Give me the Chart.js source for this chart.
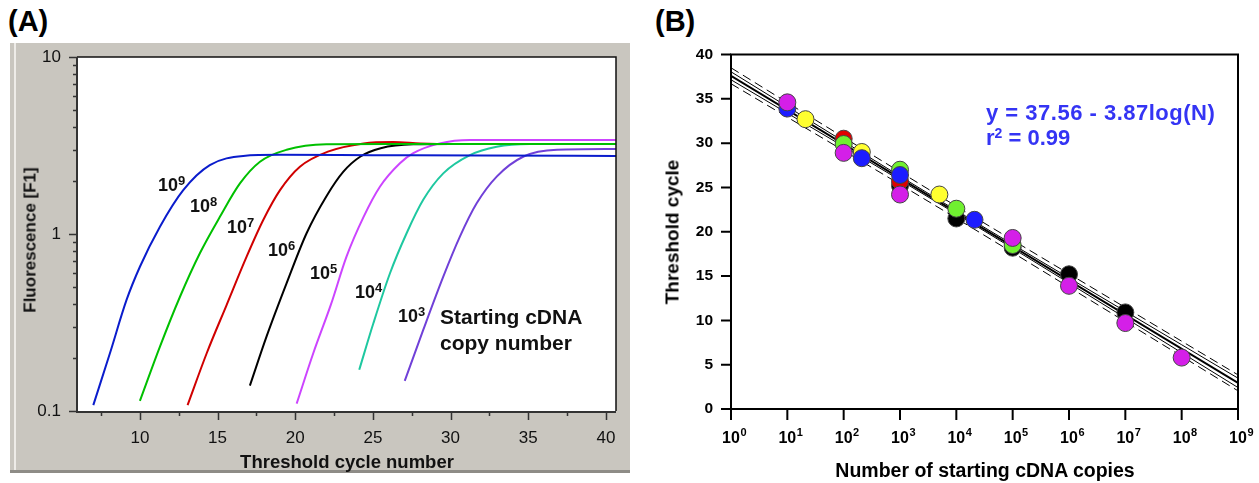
<!DOCTYPE html>
<html><head><meta charset="utf-8">
<script src="https://cdn.jsdelivr.net/npm/chart.js@4"></script>
<style>
body{margin:0;width:1259px;height:483px;background:#fff;position:relative;overflow:hidden;font-family:"Liberation Sans",Arial,sans-serif;}
.t{position:absolute;white-space:nowrap;font-weight:bold;color:#000;}
#panelA{position:absolute;left:10px;top:43px;width:620px;height:427px;background:#c9c6bf;border-bottom:3px solid #8e8c87;}
#hlA{position:absolute;left:14px;top:43px;width:2px;height:427px;background:#eeece8;}
#cA{position:absolute;left:10px;top:43px;}
#cB{position:absolute;left:640px;top:40px;}
.lab{font-size:18px;line-height:18px;color:#111;}
.lab sup{font-size:13px;position:relative;top:-4px;vertical-align:top;}
.eq{color:#3434f4;font-size:22px;line-height:22px;}
.rot{transform:translate(-50%,-50%) rotate(-90deg);}
</style></head>
<body>
<div id="panelA"></div><div id="hlA"></div>
<canvas id="cA" width="620" height="428"></canvas>
<canvas id="cB" width="619" height="443"></canvas>

<div class="t" style="left:8px;top:5px;font-size:29px;line-height:32px;">(A)</div>
<div class="t" style="left:655px;top:5px;font-size:29px;line-height:32px;">(B)</div>

<div class="t lab" style="left:158px;top:176px;">10<sup>9</sup></div>
<div class="t lab" style="left:190px;top:197px;">10<sup>8</sup></div>
<div class="t lab" style="left:227px;top:218px;">10<sup>7</sup></div>
<div class="t lab" style="left:268px;top:241px;">10<sup>6</sup></div>
<div class="t lab" style="left:310px;top:264px;">10<sup>5</sup></div>
<div class="t lab" style="left:355px;top:283px;">10<sup>4</sup></div>
<div class="t lab" style="left:398px;top:307px;">10<sup>3</sup></div>
<div class="t" style="left:440px;top:306px;font-size:21px;line-height:21px;color:#111;">Starting cDNA</div>
<div class="t" style="left:440px;top:332px;font-size:21px;line-height:21px;color:#111;">copy number</div>

<div class="t" style="left:347px;top:452px;font-size:18.5px;line-height:19px;transform:translateX(-50%);color:#111;">Threshold cycle number</div>
<div class="t rot" style="left:30px;top:240px;font-size:17px;line-height:17px;color:#111;">Fluorescence [F1]</div>

<div class="t eq" style="left:986px;top:102px;letter-spacing:0.5px;">y = 37.56 - 3.87log(N)</div>
<div class="t eq" style="left:986px;top:127px;">r<span style="font-size:14px;position:relative;top:-7px;">2</span> = 0.99</div>
<div class="t rot" style="left:672px;top:232px;font-size:19px;line-height:19px;">Threshold cycle</div>
<div class="t" style="left:985px;top:460px;font-size:19.5px;line-height:20px;transform:translateX(-50%);">Number of starting cDNA copies</div>

<script>
// ---------- Panel A: amplification curves (cycle, fluorescence) ----------
const cyc_1e9 = [7.0, 8.07, 9.14, 10.0, 11.29, 12.79, 14.5, 16.65, 19.0, 25.0, 32.0, 40.65];
const fl_1e9  = [0.108, 0.212, 0.424, 0.653, 1.10, 1.77, 2.45, 2.76, 2.80, 2.79, 2.78, 2.76];
const cyc_1e8 = [10.0, 11.29, 12.58, 13.86, 15.15, 16.44, 17.73, 19.44, 22.0, 26.0, 40.65];
const fl_1e8  = [0.114, 0.231, 0.442, 0.778, 1.25, 1.93, 2.56, 2.99, 3.21, 3.22, 3.22];
const cyc_1e7 = [13.07, 14.3, 15.58, 16.87, 17.94, 19.02, 20.3, 22.1, 24.4, 26.3, 28.05, 30.0, 40.65];
const fl_1e7  = [0.108, 0.212, 0.397, 0.745, 1.20, 1.77, 2.40, 2.92, 3.25, 3.31, 3.25, 3.22, 3.22];
const cyc_1e6 = [17.08, 18.15, 19.44, 20.73, 22.0, 23.1, 24.2, 25.5, 27.6, 30.0, 40.65];
const fl_1e6  = [0.139, 0.263, 0.526, 1.01, 1.63, 2.25, 2.74, 3.05, 3.21, 3.22, 3.22];
const cyc_1e5 = [20.09, 21.16, 22.3, 23.3, 24.4, 25.45, 26.74, 27.6, 29.3, 31.25, 40.65];
const fl_1e5  = [0.11, 0.212, 0.40, 0.745, 1.25, 1.85, 2.51, 2.86, 3.25, 3.40, 3.40];
const cyc_1e4 = [24.12, 25.03, 26.1, 27.17, 28.24, 29.53, 31.25, 32.97, 35.1, 40.65];
const fl_1e4  = [0.171, 0.313, 0.60, 1.01, 1.56, 2.20, 2.79, 3.11, 3.22, 3.22];
const cyc_1e3 = [27.05, 28.24, 29.53, 30.6, 31.68, 32.97, 34.7, 36.85, 40.65];
const fl_1e3  = [0.148, 0.287, 0.574, 0.966, 1.49, 2.11, 2.74, 2.99, 3.02];

const xMajorA = [10, 15, 20, 25, 30, 35, 40];
const xMinorA = [7.5, 12.5, 17.5, 22.5, 27.5, 32.5, 37.5];
const yMajorA = [0.1, 1, 10];
const yMajorLabelsA = ['0.1', '1', '10'];
const yMinorA = [0.2, 0.3, 0.4, 0.5, 0.6, 0.7, 0.8, 0.9, 2, 3, 4, 5, 6, 7, 8, 9];

// ---------- Panel B: standard curve (copies, threshold cycle) ----------
const copies_black   = [1e3, 1e4, 1e5, 1e6, 1e7];
const ct_black       = [25.2, 21.5, 18.2, 15.2, 10.9];
const copies_red     = [1e2, 1e3];
const ct_red         = [30.5, 25.7];
const copies_yellow  = [21, 210, 5000];
const ct_yellow      = [32.7, 29.0, 24.2];
const copies_green   = [1e2, 1e3, 1e4, 1e5];
const ct_green       = [29.9, 27.0, 22.6, 18.5];
const copies_blue    = [10, 210, 1e3, 21000];
const ct_blue        = [33.9, 28.3, 26.4, 21.35];
const copies_magenta = [10, 1e2, 1e3, 1e5, 1e6, 1e7, 1e8];
const ct_magenta     = [34.6, 28.9, 24.2, 19.3, 13.9, 9.7, 5.8];

const fitN   = [1, 1e9];
const fitCt  = [37.6, 2.95];
const bandN  = [1, 1e1, 1e2, 1e3, 1e4, 1e5, 1e6, 1e7, 1e8, 1e9];
const ciUp   = [38.05, 34.12, 30.19, 26.27, 22.39, 18.57, 14.79, 11.02, 7.25, 3.48];
const ciLo   = [37.15, 33.38, 29.61, 25.83, 22.01, 18.13, 14.21, 10.28, 6.35, 2.42];
const piUp   = [38.5, 34.57, 30.65, 26.75, 22.88, 19.05, 15.25, 11.45, 7.65, 3.85];
const piLo   = [36.7, 32.93, 29.15, 25.35, 21.52, 17.65, 13.75, 9.85, 5.95, 2.05];

const yTicksB = [0, 5, 10, 15, 20, 25, 30, 35, 40];
const xTicksB = [1, 1e1, 1e2, 1e3, 1e4, 1e5, 1e6, 1e7, 1e8, 1e9];
const xExpB   = ['0', '1', '2', '3', '4', '5', '6', '7', '8', '9'];

const zip = (xs, ys) => xs.map((x, i) => ({x, y: ys[i]}));

// ---------- Chart A ----------
const curvesA = [
  [cyc_1e9, fl_1e9, '#0a1ccc'],
  [cyc_1e8, fl_1e8, '#00c000'],
  [cyc_1e7, fl_1e7, '#d00000'],
  [cyc_1e6, fl_1e6, '#000000'],
  [cyc_1e5, fl_1e5, '#cc44ff'],
  [cyc_1e4, fl_1e4, '#1ec8a0'],
  [cyc_1e3, fl_1e3, '#7040d8'],
];

const axesA = {
  id: 'axesA',
  beforeDraw(ch) {
    const {ctx, chartArea: a} = ch;
    ctx.save(); ctx.fillStyle = '#fff';
    ctx.fillRect(a.left, a.top, a.right - a.left, a.bottom - a.top);
    ctx.restore();
  },
  afterDraw(ch) {
    const {ctx, chartArea: a, scales: {x, y}} = ch;
    ctx.save();
    ctx.strokeStyle = '#111'; ctx.lineWidth = 1.5;
    ctx.beginPath();
    ctx.moveTo(a.left, a.top); ctx.lineTo(a.right, a.top); ctx.lineTo(a.right, a.bottom);
    ctx.stroke();
    ctx.strokeStyle = '#333'; ctx.lineWidth = 2;
    ctx.beginPath();
    ctx.moveTo(a.left, a.top); ctx.lineTo(a.left, a.bottom + 1); ctx.lineTo(a.right, a.bottom + 1);
    ctx.stroke();
    ctx.lineWidth = 1.5;
    ctx.beginPath();
    xMajorA.forEach(v => { const p = Math.round(x.getPixelForValue(v)) + 0.5; ctx.moveTo(p, a.bottom); ctx.lineTo(p, a.bottom + 9); });
    xMinorA.forEach(v => { const p = Math.round(x.getPixelForValue(v)) + 0.5; ctx.moveTo(p, a.bottom); ctx.lineTo(p, a.bottom + 5); });
    yMajorA.forEach(v => { const p = Math.round(y.getPixelForValue(v)) + 0.5; ctx.moveTo(a.left, p); ctx.lineTo(a.left - 8, p); });
    yMinorA.forEach(v => { const p = Math.round(y.getPixelForValue(v)) + 0.5; ctx.moveTo(a.left, p); ctx.lineTo(a.left - 4, p); });
    ctx.stroke();
    ctx.fillStyle = '#111';
    ctx.font = '17px "Liberation Sans", Arial, sans-serif';
    ctx.textBaseline = 'middle';
    ctx.textAlign = 'center';
    xMajorA.forEach(v => ctx.fillText(String(v), x.getPixelForValue(v), a.bottom + 27));
    ctx.textAlign = 'right';
    yMajorA.forEach((v, i) => ctx.fillText(yMajorLabelsA[i], a.left - 16, y.getPixelForValue(v)));
    ctx.restore();
  }
};

new Chart(document.getElementById('cA'), {
  type: 'line',
  data: {
    datasets: curvesA.map(([cx, fy, col]) => ({
      data: zip(cx, fy), borderColor: col, borderWidth: 2, pointRadius: 0,
      cubicInterpolationMode: 'monotone', fill: false
    }))
  },
  options: {
    responsive: false, animation: false, events: [],
    layout: {padding: {left: 67, top: 14, right: 14, bottom: 60}},
    plugins: {legend: {display: false}, tooltip: {enabled: false}},
    scales: {
      x: {type: 'linear', min: 5.95, max: 40.65, ticks: {display: false}, grid: {display: false}, border: {display: false},
          afterFit: s => { s.height = 0; }},
      y: {type: 'logarithmic', min: 0.1, max: 10, ticks: {display: false}, grid: {display: false}, border: {display: false},
          afterFit: s => { s.width = 0; }}
    }
  },
  plugins: [axesA]
});

// ---------- Chart B ----------
const ptSets = [
  [copies_magenta, ct_magenta, '#d41fe8', 0],
  [copies_blue, ct_blue, '#1c1cff', 1],
  [copies_green, ct_green, '#70f030', 2],
  [copies_yellow, ct_yellow, '#ffff30', 3],
  [copies_red, ct_red, '#e00000', 4],
  [copies_black, ct_black, '#000000', 5],
];
const dsB = ptSets.map(([n, c, col, ord]) => ({
  data: zip(n, c), order: ord, showLine: false,
  pointRadius: 8.5, pointBackgroundColor: col, pointBorderColor: '#444', pointBorderWidth: 1
}));
const lineDs = (xs, ys, w, dash, ord) => ({
  data: zip(xs, ys), order: ord, showLine: true, pointRadius: 0,
  borderColor: '#000', borderWidth: w, borderDash: dash, fill: false, tension: 0
});
dsB.push(lineDs(fitN, fitCt, 2, [], 10));
dsB.push(lineDs(bandN, ciUp, 1, [], 11));
dsB.push(lineDs(bandN, ciLo, 1, [], 12));
dsB.push(lineDs(bandN, piUp, 1, [9, 5], 13));
dsB.push(lineDs(bandN, piLo, 1, [9, 5], 14));

const axesB = {
  id: 'axesB',
  afterDraw(ch) {
    const {ctx, chartArea: a, scales: {x, y}} = ch;
    ctx.save();
    ctx.strokeStyle = '#000'; ctx.lineWidth = 2;
    ctx.strokeRect(a.left, a.top, a.right - a.left, a.bottom - a.top);
    ctx.beginPath();
    xTicksB.forEach(v => { const p = x.getPixelForValue(v); ctx.moveTo(p, a.bottom); ctx.lineTo(p, a.bottom + 11); });
    yTicksB.forEach(v => { const p = y.getPixelForValue(v); ctx.moveTo(a.left, p); ctx.lineTo(a.left - 10, p); });
    ctx.stroke();
    ctx.fillStyle = '#000';
    ctx.font = 'bold 15.5px "Liberation Sans", Arial, sans-serif';
    ctx.textAlign = 'right'; ctx.textBaseline = 'middle';
    yTicksB.forEach(v => ctx.fillText(String(v), a.left - 18, y.getPixelForValue(v)));
    ctx.textAlign = 'left'; ctx.textBaseline = 'alphabetic';
    xTicksB.forEach((v, i) => {
      const p = x.getPixelForValue(v);
      ctx.font = 'bold 16px "Liberation Sans", Arial, sans-serif';
      const w = ctx.measureText('10').width;
      ctx.fillText('10', p - w / 2, a.bottom + 34);
      ctx.font = 'bold 11px "Liberation Sans", Arial, sans-serif';
      ctx.fillText(xExpB[i], p + w / 2 + 0.5, a.bottom + 27);
    });
    ctx.restore();
  }
};

new Chart(document.getElementById('cB'), {
  type: 'scatter',
  data: {datasets: dsB},
  options: {
    responsive: false, animation: false, events: [],
    layout: {padding: {left: 91, top: 14.5, right: 21, bottom: 74}},
    plugins: {legend: {display: false}, tooltip: {enabled: false}},
    scales: {
      x: {type: 'logarithmic', min: 1, max: 1e9, ticks: {display: false}, grid: {display: false}, border: {display: false},
          afterFit: s => { s.height = 0; }},
      y: {type: 'linear', min: 0, max: 40, ticks: {display: false}, grid: {display: false}, border: {display: false},
          afterFit: s => { s.width = 0; }}
    }
  },
  plugins: [axesB]
});
</script>
</body></html>
